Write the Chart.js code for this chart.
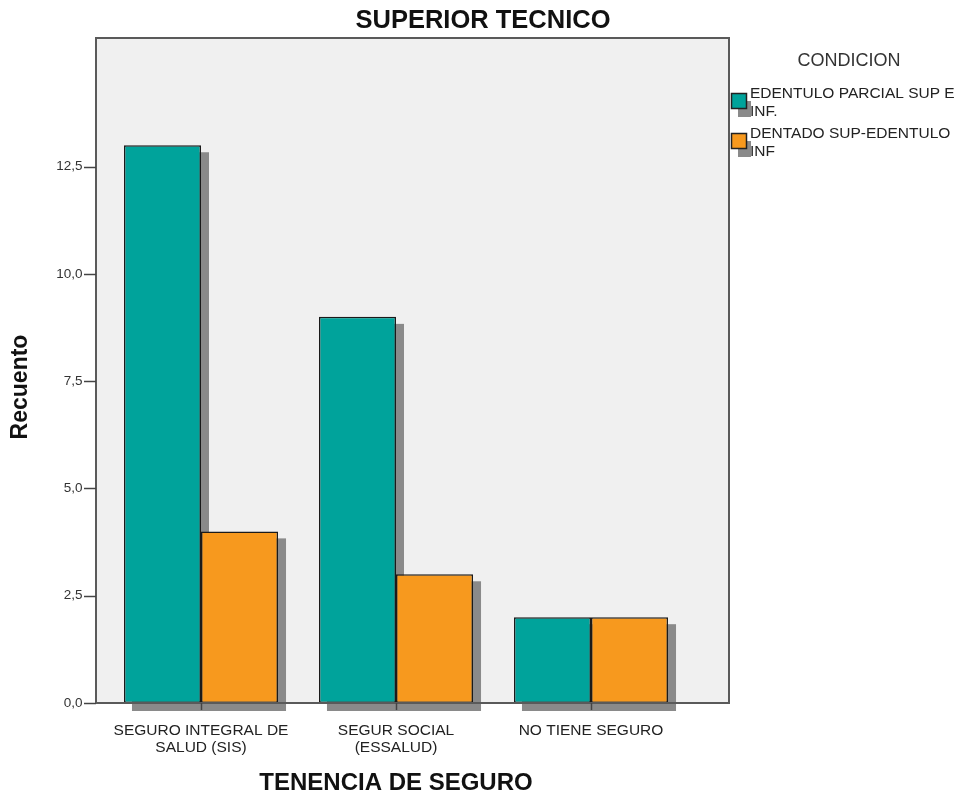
<!DOCTYPE html>
<html>
<head>
<meta charset="utf-8">
<script src="https://cdn.jsdelivr.net/npm/chart.js@4.4.1/dist/chart.umd.min.js"></script>
<style>
  html, body { margin: 0; padding: 0; background: #ffffff; }
  #wrap { width: 966px; height: 798px; }
</style>
</head>
<body>
<div id="wrap"><canvas id="chart" width="966" height="798"></canvas></div>
<script>
// === Data ===
const categories = [
  ["SEGURO INTEGRAL DE", "SALUD (SIS)"],
  ["SEGUR SOCIAL", "(ESSALUD)"],
  "NO TIENE SEGURO"
];
const edentuloParcial = [13, 9, 2];
const dentadoSup = [4, 3, 2];
const seriesNames = ["EDENTULO PARCIAL SUP E INF.", "DENTADO SUP-EDENTULO INF"];
const legendLines = [["EDENTULO PARCIAL SUP E", "INF."], ["DENTADO SUP-EDENTULO", "INF"]];
const yTicks = [0, 2.5, 5, 7.5, 10, 12.5];

const FONT = "'Liberation Sans', Arial, sans-serif";
const TEAL = "#00a39b";
const ORANGE = "#f7991e";
const SHADOW = "#8a8a8a";

// frame of the plot box (wider than the category area, like SPSS)
const FRAME_LEFT = 96;
const FRAME_RIGHT = 729;

// === Plugins ===
const spssFrame = {
  id: "spssFrame",
  beforeDraw(chart) {
    const { ctx, chartArea } = chart;
    ctx.save();
    ctx.fillStyle = "#f0f0f0";
    ctx.fillRect(FRAME_LEFT, chartArea.top, FRAME_RIGHT - FRAME_LEFT, chartArea.bottom - chartArea.top);
    ctx.restore();
  },
  beforeDatasetsDraw(chart) {
    // drop shadows behind each bar
    const ctx = chart.ctx;
    ctx.save();
    ctx.fillStyle = SHADOW;
    chart.data.datasets.forEach((ds, i) => {
      chart.getDatasetMeta(i).data.forEach(bar => {
        const p = bar.getProps(["x", "y", "base", "width"], true);
        ctx.fillRect(p.x - p.width / 2 + 8, p.y + 7, p.width, p.base - p.y + 1);
      });
    });
    ctx.restore();
  },
  afterDraw(chart) {
    const { ctx, chartArea, scales } = chart;
    ctx.save();
    // border
    ctx.strokeStyle = "#5a5a5a";
    ctx.lineWidth = 2;
    ctx.strokeRect(FRAME_LEFT, chartArea.top, FRAME_RIGHT - FRAME_LEFT, chartArea.bottom - chartArea.top);

    // y tick marks
    ctx.strokeStyle = "#444";
    ctx.lineWidth = 1.5;
    scales.y.ticks.forEach(t => {
      const y = Math.round(scales.y.getPixelForValue(t.value)) + 0.5;
      ctx.beginPath();
      ctx.moveTo(84, y);
      ctx.lineTo(FRAME_LEFT, y);
      ctx.stroke();
    });
    // x tick marks
    categories.forEach((c, i) => {
      const x = Math.round(scales.x.getPixelForValue(i)) + 0.5;
      ctx.beginPath();
      ctx.moveTo(x, chartArea.bottom);
      ctx.lineTo(x, chartArea.bottom + 7);
      ctx.stroke();
    });

    // chart title, centred on the whole page
    ctx.fillStyle = "#111";
    ctx.font = "bold 25.5px " + FONT;
    ctx.textAlign = "center";
    ctx.textBaseline = "middle";
    ctx.fillText("SUPERIOR TECNICO", 483, 21);

    // y axis title
    ctx.save();
    ctx.translate(21, 387);
    ctx.rotate(-Math.PI / 2);
    ctx.font = "bold 23px " + FONT;
    ctx.fillText("Recuento", 0, 0);
    ctx.restore();

    // legend
    ctx.fillStyle = "#333";
    ctx.font = "18px " + FONT;
    ctx.fillText("CONDICION", 849, 61);

    const itemTops = [93, 133];
    chart.data.datasets.forEach((ds, i) => {
      const top = itemTops[i];
      ctx.fillStyle = SHADOW;
      ctx.fillRect(738, top + 8, 13, 16);
      ctx.fillStyle = ds.backgroundColor;
      ctx.fillRect(731, top, 16, 16);
      ctx.strokeStyle = "#222";
      ctx.lineWidth = 1.5;
      ctx.strokeRect(731.5, top + 0.5, 15, 15);
      ctx.fillStyle = "#222";
      ctx.font = "15.5px " + FONT;
      ctx.textAlign = "left";
      legendLines[i].forEach((line, k) => {
        ctx.fillText(line, 750, top + 1 + k * 17.5);
      });
    });
    ctx.restore();
  }
};

// === Chart ===
new Chart(document.getElementById("chart"), {
  type: "bar",
  data: {
    labels: categories,
    datasets: [
      {
        label: seriesNames[0],
        data: edentuloParcial,
        backgroundColor: TEAL,
        borderColor: "#1a1a1a",
        borderWidth: 1.5,
        borderSkipped: false
      },
      {
        label: seriesNames[1],
        data: dentadoSup,
        backgroundColor: ORANGE,
        borderColor: "#1a1a1a",
        borderWidth: 1.5,
        borderSkipped: false
      }
    ]
  },
  options: {
    responsive: false,
    animation: false,
    categoryPercentage: 0.79,
    barPercentage: 1.0,
    layout: { padding: { top: 38, right: 277.5, left: 0, bottom: 0 } },
    plugins: {
      legend: { display: false },
      tooltip: { enabled: false },
      title: { display: false }
    },
    scales: {
      x: {
        grid: { display: false, drawTicks: false },
        border: { display: false },
        ticks: {
          color: "#222",
          font: { family: FONT, size: 15.5, lineHeight: 1.1 },
          padding: 19,
          maxRotation: 0,
          autoSkip: false
        },
        title: {
          display: true,
          text: "TENENCIA DE SEGURO",
          color: "#111",
          font: { family: FONT, size: 24, weight: "bold" },
          padding: { top: 0, bottom: 0 }
        },
        afterFit(scale) { scale.height = 95; }
      },
      y: {
        min: 0,
        max: 15.5,
        grid: { display: false, drawTicks: false },
        border: { display: false },
        afterBuildTicks(scale) { scale.ticks = yTicks.map(v => ({ value: v })); },
        ticks: {
          color: "#333",
          font: { family: FONT, size: 13.5 },
          padding: 21,
          callback: v => v.toFixed(1).replace(".", ",")
        },
        afterFit(scale) { scale.width = 103.5; }
      }
    }
  },
  plugins: [spssFrame]
});
</script>
</body>
</html>
